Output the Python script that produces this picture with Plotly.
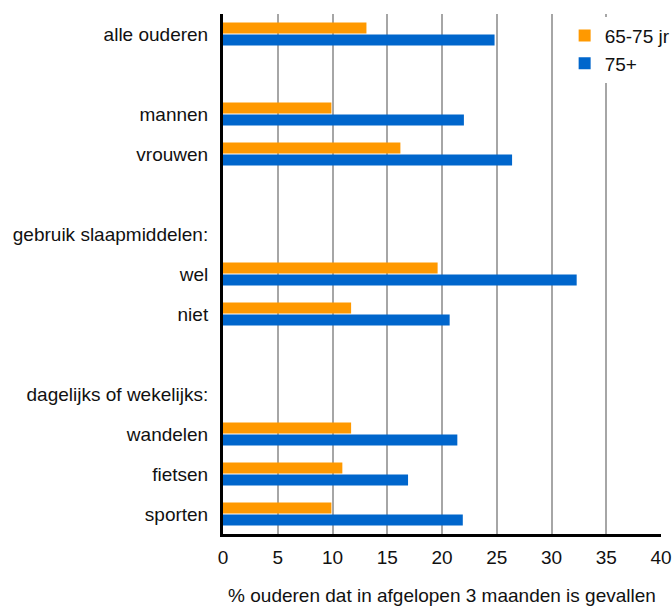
import plotly.graph_objects as go

categories = ["alle ouderen", " ", "mannen", "vrouwen", "  ",
              "gebruik slaapmiddelen:", "wel", "niet", "   ",
              "dagelijks of wekelijks:", "wandelen", "fietsen", "sporten"]
jr_65_75 = [13.1, None, 9.9, 16.2, None, None, 19.6, 11.7, None, None, 11.7, 10.9, 9.9]
jr_75plus = [24.8, None, 22.0, 26.4, None, None, 32.3, 20.7, None, None, 21.4, 16.9, 21.9]
x_ticks = [0, 5, 10, 15, 20, 25, 30, 35, 40]

fig = go.Figure()
fig.add_trace(go.Bar(name="65-75 jr", y=categories, x=jr_65_75, orientation="h",
                     marker=dict(color="#FF9900", line=dict(width=0))))
fig.add_trace(go.Bar(name="75+", y=categories, x=jr_75plus, orientation="h",
                     marker=dict(color="#0066CC", line=dict(width=0))))

fig.update_layout(
    width=672, height=606,
    margin=dict(l=223, r=11, t=14, b=72, autoexpand=False),
    paper_bgcolor="white", plot_bgcolor="white",
    font=dict(family="Liberation Sans, Arial, sans-serif", size=19, color="#111111"),
    barmode="group", bargap=0.4, bargroupgap=0.1,
    showlegend=True,
    legend=dict(x=0.78, y=0.995, xanchor="left", yanchor="top",
                bgcolor="white", traceorder="normal",
                font=dict(size=19), tracegroupgap=0),
    xaxis=dict(range=[0, 40], tickvals=x_ticks, showgrid=True,
               gridcolor="#a6a6a6", gridwidth=1.5, zeroline=False,
               showline=True, linecolor="black", linewidth=3, ticks="",
               automargin=False, ticklabelstandoff=4,
               title=dict(text="% ouderen dat in afgelopen 3 maanden is gevallen",
                          font=dict(size=19), standoff=26)),
    yaxis=dict(categoryorder="array", categoryarray=categories,
               autorange="reversed", showgrid=False, zeroline=False,
               showline=True, linecolor="black", linewidth=3, ticks="",
               automargin=False, ticklabelstandoff=8),
)

fig.write_html(
    "out.html",
    config={"displayModeBar": False},
    post_script="document.body.style.margin='0';document.body.style.overflow='hidden';",
)
